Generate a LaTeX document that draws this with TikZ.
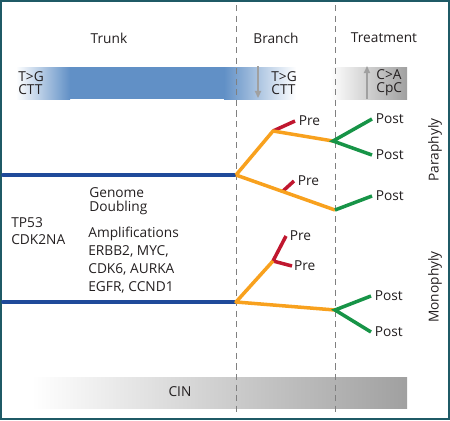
\documentclass[tikz,border=0pt]{standalone}
\usepackage{fontspec}
\setmainfont{Open Sans}
\usetikzlibrary{arrows.meta, positioning, calc}
\definecolor{cFrame}{HTML}{1F5A66}
\definecolor{cTrunk}{HTML}{1F4A9A}
\definecolor{cBar}{HTML}{6190C6}
\definecolor{cOrange}{HTML}{F8A11E}
\definecolor{cRed}{HTML}{C0172F}
\definecolor{cGreen}{HTML}{179447}
\definecolor{cShade}{HTML}{A0A0A0}
\definecolor{cText}{HTML}{231F20}
\tikzset{
  lbl/.style={font=\fontsize{7.8}{9}\selectfont, text=cText, inner sep=0pt,
    align=left},
  trunk/.style={line width=2.1pt, cTrunk, line cap=round},
  branch/.style={line width=2pt, cOrange, line join=round},
  pre/.style={line width=2pt, cRed},
  post/.style={line width=2pt, cGreen},
  phase/.style={dash pattern=on 3.5pt off 2.5pt, gray, line width=0.4pt},
  sig/.style={-{Triangle[length=4pt,width=3.5pt]}, line width=0.9pt, cShade},
}

\begin{document}
\begin{tikzpicture}[x=0.02cm, y=-0.02cm]

  \useasboundingbox (0,0) rectangle (450,420);
  \draw[cFrame, line width=1.2pt] (1,1) rectangle (449,419);

  % Signature bars
  \shade[left color=white, right color=cBar] (16,67) rectangle (70,99);
  \fill[cBar] (70,67) rectangle (224,99);
  \shade[left color=cBar, right color=white] (224,67) rectangle (296,99);
  \shade[left color=white, right color=cShade] (330,67) rectangle (407,99);
  \shade[left color=white, right color=cShade!55] (32,377) rectangle (236,408);
  \shade[left color=cShade!55, right color=cShade] (236,377) rectangle (407,408);

  % Phase separators
  \draw[phase] (236,5) -- (236,415);
  \draw[phase] (335,5) -- (335,415);

  % Headings
  \node[lbl] (trunk) at (109,38) {Trunk};
  \node[lbl] (branch) at (276,38) {Branch};
  \node[lbl] (treat) at (384,38) {Treatment};

  % Bar labels
  \node[lbl, anchor=west, font=\fontsize{7.8}{7.6}\selectfont] (sigT) at (18,83) {T>G\\CTT};
  \node[lbl, anchor=west, font=\fontsize{7.8}{7.6}\selectfont] (sigB) at (271,83) {T>G\\CTT};
  \node[lbl, anchor=west, font=\fontsize{7.8}{7.6}\selectfont] (sigR) at (376,83) {C>A\\CpC};
  \node[lbl] (cin) at (180,392) {CIN};

  \coordinate (dnS) at (258,66);
  \coordinate (dnE) at (258,98);
  \coordinate (upS) at (367,99);
  \coordinate (upE) at (367,66);
  \draw[sig] (dnS) -- (dnE);
  \draw[sig] (upS) -- (upE);

  % Paraphyly tree
  \coordinate (startA) at (3,175);
  \coordinate (rootA) at (236,175);
  \coordinate (splitA) at (273,131);
  \coordinate (tipA) at (333,141);
  \coordinate (preA) at (295,121);
  \coordinate (postA1) at (372,119);
  \coordinate (postA2) at (372,155);
  \coordinate (midB) at (283,191);
  \coordinate (preB) at (294,181);
  \coordinate (tipB) at (335,210);
  \coordinate (postB) at (372,196);

  \draw[trunk] (startA) -- (rootA);
  \draw[pre] (splitA) -- (preA);
  \draw[pre] (midB) -- (preB);
  \draw[branch] (rootA) -- (splitA) -- (tipA);
  \draw[branch] (rootA) -- (tipB);
  \draw[post] (postA1) -- (tipA) -- (postA2);
  \draw[post] (tipB) -- (postB);

  \node[lbl, right=2pt of preA] (tPreA) {Pre};
  \node[lbl, right=2pt of preB] (tPreB) {Pre};
  \node[lbl, right=2pt of postA1] (tPostA1) {Post};
  \node[lbl, right=2pt of postA2] (tPostA2) {Post};
  \node[lbl, right=2pt of postB] (tPostB) {Post};
  \node[lbl, rotate=90] (para) at (435,150) {Paraphyly};

  % Monophyly tree
  \coordinate (startM) at (3,302);
  \coordinate (rootM) at (236,302);
  \coordinate (splitM) at (273,261);
  \coordinate (preM1) at (286,236);
  \coordinate (preM2) at (292,266);
  \coordinate (tipM) at (335,310);
  \coordinate (postM1) at (371,296);
  \coordinate (postM2) at (371,332);

  \draw[trunk] (startM) -- (rootM);
  \draw[pre] (preM1) -- (splitM) -- (preM2);
  \draw[branch] (splitM) -- (rootM) -- (tipM);
  \draw[post] (postM1) -- (tipM) -- (postM2);

  \node[lbl, right=2pt of preM1] (tPreM1) {Pre};
  \node[lbl, right=1pt of preM2] (tPreM2) {Pre};
  \node[lbl, right=2pt of postM1] (tPostM1) {Post};
  \node[lbl, right=2pt of postM2] (tPostM2) {Post};
  \node[lbl, rotate=90] (mono) at (435,287) {Monophyly};

  % Trunk events
  \node[lbl, anchor=west, font=\fontsize{7.8}{8}\selectfont] (gd) at (89,201) {Genome\\Doubling};
  \node[lbl, anchor=west, font=\fontsize{7.8}{9.6}\selectfont] (drv) at (11,231) {TP53\\CDK2NA};
  \node[lbl, anchor=west, font=\fontsize{7.8}{10.2}\selectfont] (amp) at (88,260)
    {Amplifications\\ERBB2, MYC,\\CDK6, AURKA\\EGFR, CCND1};

\end{tikzpicture}
\end{document}
